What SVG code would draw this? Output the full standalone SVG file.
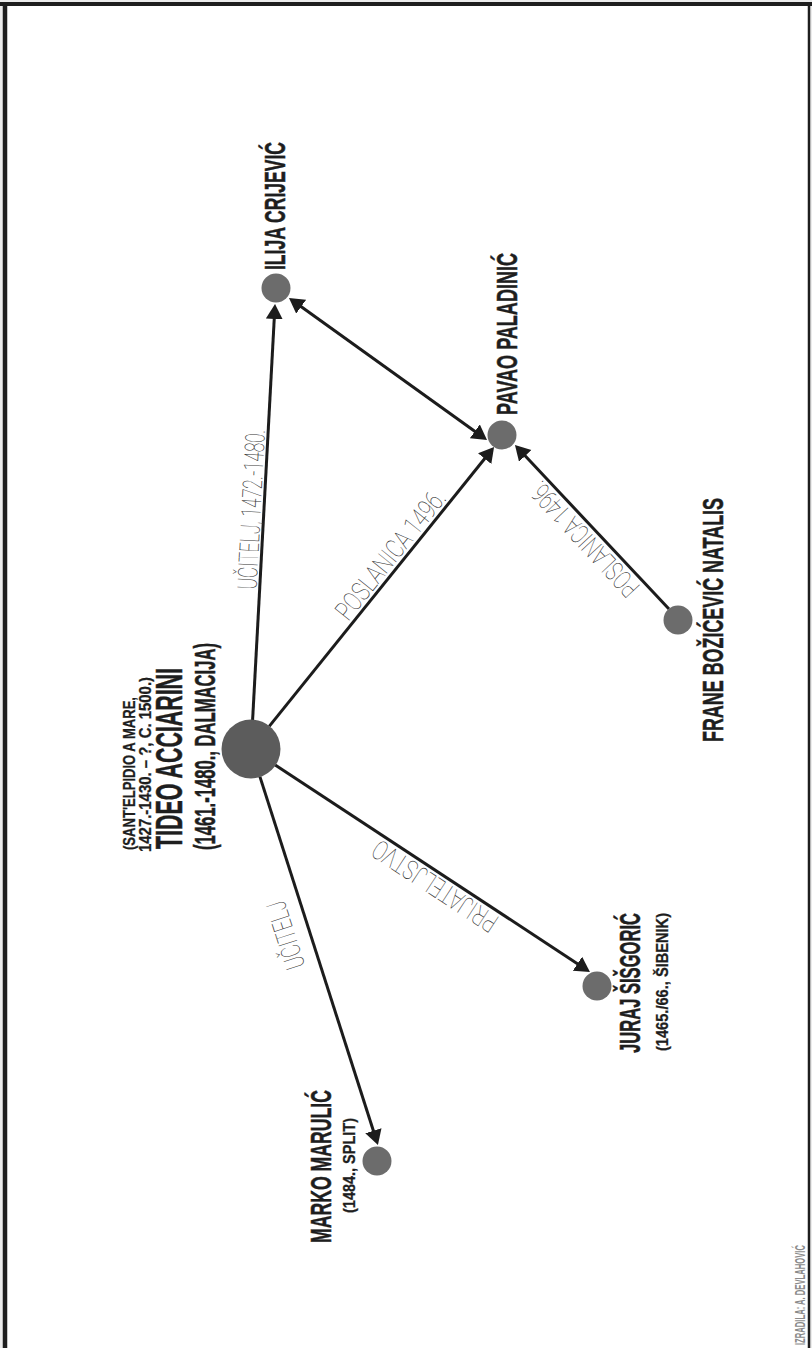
<svg xmlns="http://www.w3.org/2000/svg" width="812" height="1348" viewBox="0 0 812 1348">
<defs>
<style>
.node{fill:#6c6c6c}
.main{fill:#5c5c5c}
.edge{stroke:#1c1c1c;stroke-width:3;fill:none}
.b{font-family:"Liberation Sans",Arial,sans-serif;font-weight:bold;fill:#1e1e1e;stroke:#1e1e1e;stroke-width:0.5}
.s{stroke-width:0.3}
.t{font-family:Roboto,"Liberation Sans",sans-serif;font-weight:100;fill:#333333;font-size:27px}
.cr{font-family:"Liberation Sans",Arial,sans-serif;font-weight:bold;fill:#8a8a8a;font-size:14px}
</style>
<marker id="ah" markerUnits="userSpaceOnUse" markerWidth="18" markerHeight="18" refX="5" refY="8.5" orient="auto-start-reverse" viewBox="0 0 18 18">
<path d="M0,0 L15,8.5 L0,17 Z" fill="#1c1c1c"/>
</marker>
</defs>
<rect x="0" y="0" width="812" height="1348" fill="#ececec"/>
<rect x="5" y="4" width="804" height="1350" fill="#ffffff"/>
<g id="frame">
<line x1="0" y1="4" x2="812" y2="4" stroke="#1e1e1e" stroke-width="4"/>
<line x1="5" y1="2" x2="5" y2="1348" stroke="#1e1e1e" stroke-width="4.5"/>
<line x1="809" y1="2" x2="809" y2="1348" stroke="#1e1e1e" stroke-width="2.5"/>
</g>
<g id="connectors">
<path class="edge" d="M252.6,720 L274.5,314" marker-end="url(#ah)"/>
<path class="edge" d="M297.1,303.8 L478.9,434.2" marker-start="url(#ah)" marker-end="url(#ah)"/>
<path class="edge" d="M269.2,726.4 L487.8,454.8" marker-end="url(#ah)"/>
<path class="edge" d="M669,609 L521.8,452.3" marker-end="url(#ah)"/>
<path class="edge" d="M275.2,764.9 L581.6,966.5" marker-end="url(#ah)"/>
<path class="edge" d="M259.9,776.6 L374.9,1135.5" marker-end="url(#ah)"/>
<text class="t" transform="translate(259.4,590) rotate(-86.9)" x="0" y="-3" textLength="160" lengthAdjust="spacingAndGlyphs">UČITELJ, 1472.-1480.</text>
<text class="t" transform="translate(351.3,624.4) rotate(-51.2)" x="0" y="-4" textLength="158" lengthAdjust="spacingAndGlyphs">POSLANICA 1496.</text>
<text class="t" transform="translate(643.9,583.4) rotate(-133)" x="0" y="-4" textLength="146" lengthAdjust="spacingAndGlyphs">POSLANICA 1496.</text>
<text class="t" transform="translate(502.5,914.4) rotate(-146.7)" x="0" y="-4" textLength="144" lengthAdjust="spacingAndGlyphs">PRIJATELJSTVO</text>
<text class="t" transform="translate(316.7,962) rotate(-107.8)" x="0" y="-12" textLength="70" lengthAdjust="spacingAndGlyphs">UČITELJ</text>
</g>
<g id="tideo">
<circle class="main" cx="251" cy="749" r="29.5"/>
<text class="b s" transform="translate(135,850) rotate(-90)" font-size="17" textLength="153" lengthAdjust="spacingAndGlyphs">(SANT'ELPIDIO A MARE,</text>
<text class="b s" transform="translate(150.5,852) rotate(-90)" font-size="17" textLength="175" lengthAdjust="spacingAndGlyphs">1427.-1430. – ?, C. 1500.)</text>
<text class="b" transform="translate(182,849) rotate(-90)" font-size="37" textLength="181" lengthAdjust="spacingAndGlyphs">TIDEO ACCIARINI</text>
<text class="b" transform="translate(215,850) rotate(-90)" font-size="30" textLength="207" lengthAdjust="spacingAndGlyphs">(1461.-1480., DALMACIJA)</text>
</g>
<g id="ilija">
<circle class="node" cx="276" cy="288" r="14.5"/>
<text class="b" transform="translate(285,270) rotate(-90)" font-size="30" textLength="128" lengthAdjust="spacingAndGlyphs">ILIJA CRIJEVIĆ</text>
</g>
<g id="pavao">
<circle class="node" cx="502" cy="435" r="14.5"/>
<text class="b" transform="translate(517,415) rotate(-90)" font-size="30" textLength="162" lengthAdjust="spacingAndGlyphs">PAVAO PALADINIĆ</text>
</g>
<g id="frane">
<circle class="node" cx="678" cy="620" r="14.5"/>
<text class="b" transform="translate(722.5,620) rotate(-90)" font-size="30" text-anchor="middle" textLength="244" lengthAdjust="spacingAndGlyphs">FRANE BOŽIĆEVIĆ NATALIS</text>
</g>
<g id="juraj">
<circle class="node" cx="597" cy="986" r="14.5"/>
<text class="b" transform="translate(640,983) rotate(-90)" font-size="30" text-anchor="middle" textLength="140" lengthAdjust="spacingAndGlyphs">JURAJ ŠIŠGORIĆ</text>
<text class="b s" transform="translate(668,982) rotate(-90)" font-size="17" text-anchor="middle" textLength="138" lengthAdjust="spacingAndGlyphs">(1465./66., ŠIBENIK)</text>
</g>
<g id="marko">
<circle class="node" cx="377" cy="1161" r="14.5"/>
<text class="b" transform="translate(330.7,1166.5) rotate(-90)" font-size="30" text-anchor="middle" textLength="153" lengthAdjust="spacingAndGlyphs">MARKO MARULIĆ</text>
<text class="b s" transform="translate(355,1165.5) rotate(-90)" font-size="17" text-anchor="middle" textLength="95" lengthAdjust="spacingAndGlyphs">(1484., SPLIT)</text>
</g>
<g id="credit">
<text class="cr" transform="translate(805,1345) rotate(-90)" textLength="100" lengthAdjust="spacingAndGlyphs">IZRADILA: A. DEVLAHOVIĆ</text>
</g>
</svg>
